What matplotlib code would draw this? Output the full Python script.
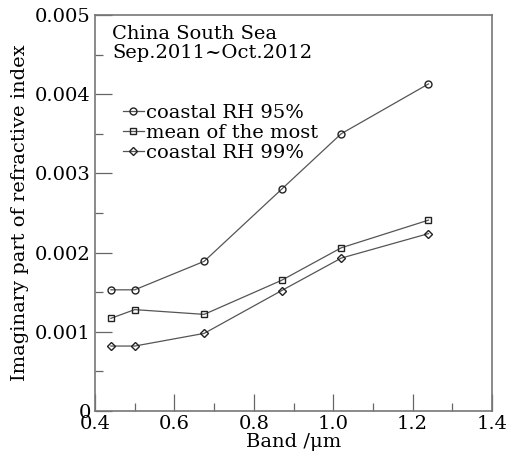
import matplotlib.pyplot as plt
from matplotlib.ticker import MultipleLocator

plt.rcParams['font.family'] = ['DejaVu Serif']
plt.rcParams['mathtext.fontset'] = 'dejavuserif'

band = [0.44, 0.50, 0.675, 0.87, 1.02, 1.24]
rh95 = [0.00153, 0.00153, 0.00189, 0.00280, 0.00350, 0.00413]
mean_most = [0.00117, 0.00128, 0.00122, 0.00165, 0.00206, 0.00241]
rh99 = [0.00082, 0.00082, 0.00098, 0.00152, 0.00193, 0.00224]

fig = plt.figure(figsize=(5.19, 4.59), dpi=100)
ax = fig.add_axes([95 / 519, 48 / 459, 397 / 519, 396 / 459])

lc = '#555555'
kw = dict(color=lc, lw=0.9, mfc='none', mec='#222222', mew=1.0)
ax.plot(band, rh95, marker='o', ms=5, label='coastal RH 95%', **kw)
ax.plot(band, mean_most, marker='s', ms=5, label='mean of the most', **kw)
ax.plot(band, rh99, marker='D', ms=4, label='coastal RH 99%', **kw)

ax.set_xlim(0.4, 1.4)
ax.set_ylim(0, 0.005)
ax.xaxis.set_minor_locator(MultipleLocator(0.1))
ax.yaxis.set_minor_locator(MultipleLocator(0.0005))
ax.set_xticks([0.4, 0.6, 0.8, 1.0, 1.2, 1.4])
ax.set_xticklabels(['0.4', '0.6', '0.8', '1.0', '1.2', '1.4'])
ax.set_yticks([0, 0.001, 0.002, 0.003, 0.004, 0.005])
ax.set_yticklabels(['0', '0.001', '0.002', '0.003', '0.004', '0.005'])
ax.tick_params(which='major', direction='in', length=12, width=0.9, color='#666666',
               labelsize=14, pad=3)
ax.tick_params(which='minor', direction='in', length=6, width=0.9, color='#666666')
for s in ax.spines.values():
    s.set_color('#777777')
    s.set_linewidth(1.2)

ax.set_xlabel('Band /μm', fontsize=14, labelpad=0)
ax.set_ylabel('Imaginary part of refractive index', fontsize=14, labelpad=4)

ax.text(0.043, 0.975, 'China South Sea\nSep.2011~Oct.2012', transform=ax.transAxes,
        fontsize=14, va='top', ha='left', linespacing=1.05)
ax.legend(loc='upper left', bbox_to_anchor=(0.07, 0.775), frameon=False, fontsize=14,
          handlelength=1.1, handletextpad=0.1, labelspacing=0.1, borderaxespad=0,
          borderpad=0)

fig.savefig('out.png', dpi=100)
